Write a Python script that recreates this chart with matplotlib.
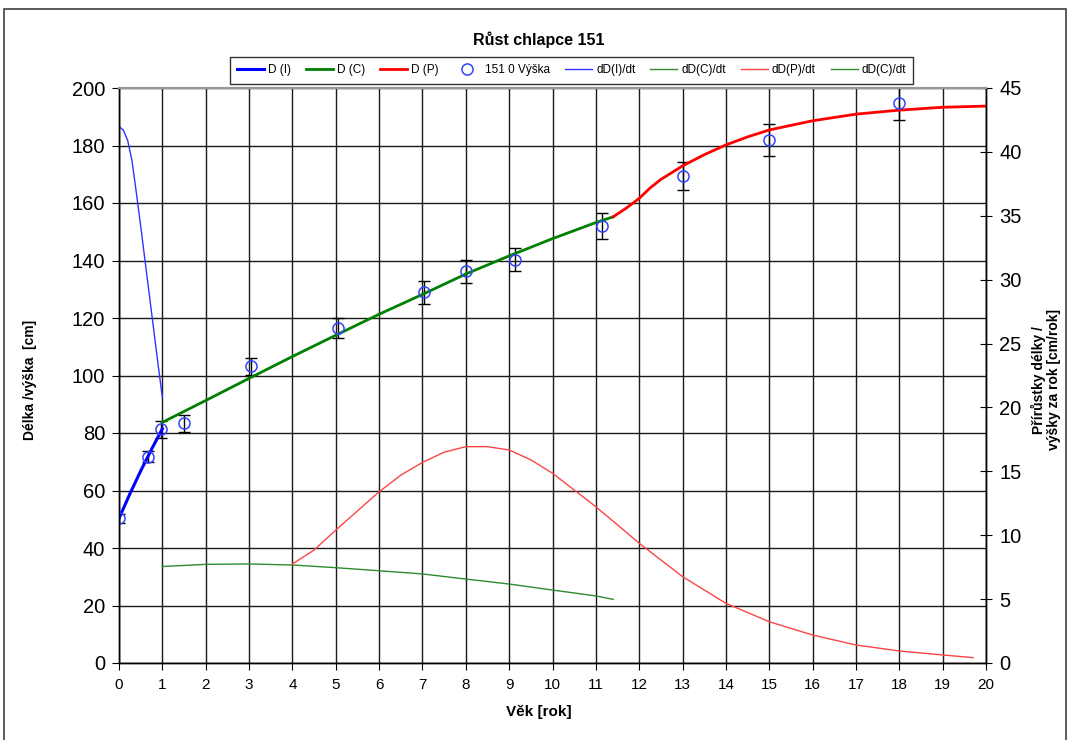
import matplotlib
matplotlib.use("Agg")
import matplotlib.pyplot as plt
from matplotlib.patches import Rectangle

# measured heights (151 0 Výška)
age_pts = [0.0, 0.67, 0.97, 1.51, 3.05, 5.05, 7.04, 8.0, 9.13, 11.14, 13.0, 15.0, 18.0]
height_pts = [50.3, 71.8, 81.3, 83.4, 103.2, 116.5, 129.0, 136.3, 140.2, 152.0, 169.4, 181.9, 194.8]
height_err = [1.5, 2.0, 3.0, 3.0, 3.0, 3.5, 4.0, 4.0, 4.0, 4.5, 5.0, 5.5, 6.0]

# D(I) - infancy
age_i = [0.0, 0.25, 0.5, 0.75, 1.0]
d_i = [50.3, 58.8, 66.8, 74.3, 81.5]

# D(C) - childhood
age_c = [1.0, 2.0, 3.0, 4.0, 5.0, 6.0, 7.0, 8.0, 9.0, 10.0, 11.0, 11.4]
d_c = [83.7, 91.3, 99.0, 106.6, 114.0, 121.3, 128.2, 135.3, 141.6, 147.6, 153.2, 155.2]

# D(P) - puberty
age_p = [11.4, 11.7, 12.0, 12.25, 12.5, 13.0, 13.5, 14.0, 14.5, 15.0, 16.0, 17.0, 18.0, 19.0, 20.0]
d_p = [155.2, 158.2, 161.6, 165.2, 168.2, 172.9, 176.8, 180.2, 183.0, 185.4, 188.6, 190.9, 192.3, 193.3, 193.7]

# derivatives [cm/rok]
age_di = [0.0, 0.1, 0.2, 0.3, 0.4, 0.5, 0.6, 0.7, 0.8, 0.9, 1.0]
dd_i = [42.0, 41.7, 40.9, 39.3, 36.8, 34.2, 31.5, 28.8, 26.1, 23.4, 20.8]

age_dc = [1.0, 2.0, 3.0, 4.0, 5.0, 6.0, 7.0, 8.0, 9.0, 10.0, 11.0, 11.4]
dd_c = [7.55, 7.72, 7.75, 7.67, 7.46, 7.22, 6.97, 6.57, 6.18, 5.71, 5.25, 4.98]

age_dp = [4.0, 4.5, 5.0, 5.5, 6.0, 6.5, 7.0, 7.5, 8.0, 8.5, 9.0, 9.5, 10.0, 11.0, 11.55,
          12.0, 13.0, 14.0, 15.0, 16.0, 17.0, 18.0, 19.0, 19.7]
dd_p = [7.75, 8.84, 10.4, 11.9, 13.4, 14.7, 15.7, 16.5, 16.93, 16.93, 16.67, 15.9, 14.85, 12.23, 10.67,
        9.37, 6.76, 4.67, 3.23, 2.19, 1.41, 0.94, 0.63, 0.42]

x_ticks = list(range(0, 21))
y_ticks = list(range(0, 201, 20))
y2_ticks = list(range(0, 46, 5))

narrow = ['Liberation Sans Narrow', 'Liberation Sans', 'DejaVu Sans']
plt.rcParams['font.family'] = ['Liberation Sans', 'DejaVu Sans']

fig = plt.figure(figsize=(10.72, 7.4), dpi=100)
ax = fig.add_axes([119 / 1072, 77 / 740, 867 / 1072, 575 / 740])
ax2 = ax.twinx()

# grid
for x in x_ticks:
    ax.axvline(x, color='#1a1a1a', lw=1.0, zorder=0)
for y in y_ticks:
    ax.axhline(y, color='#1a1a1a', lw=1.0, zorder=0)

# main curves
l1, = ax.plot(age_i, d_i, color='#0000ff', lw=2.2, label='D (I)', zorder=4)
l2, = ax.plot(age_c, d_c, color='#008000', lw=2.0, label='D (C)', zorder=4)
l3, = ax.plot(age_p, d_p, color='#ff0000', lw=2.0, label='D (P)', zorder=4)
ax.errorbar(age_pts, height_pts, yerr=height_err, fmt='none', ecolor='black',
            elinewidth=1, capsize=4, capthick=1, zorder=3)
l4, = ax.plot(age_pts, height_pts, 'o', ms=8, mfc='none', mec='#3344ff', mew=1.1,
              label='151 0 Výška', zorder=5)

# derivatives on right axis
l5, = ax2.plot(age_di, dd_i, color='#3333ff', lw=1.0, label='dD(I)/dt')
l6, = ax2.plot(age_dc, dd_c, color='#2e8b2e', lw=1.0, label='dD(C)/dt')
l7, = ax2.plot(age_dp, dd_p, color='#ff4444', lw=1.0, label='dD(P)/dt')
l8, = ax2.plot([], [], color='#2e8b2e', lw=1.0, label='dD(C)/dt')

ax.set_xlim(0, 20)
ax.set_ylim(0, 200)
ax2.set_ylim(0, 45)
ax.set_xticks(x_ticks)
ax.set_yticks(y_ticks)
ax2.set_yticks(y2_ticks)

ax.tick_params(axis='y', direction='out', length=5, labelsize=14.5, pad=5)
ax.tick_params(axis='x', direction='out', length=5, labelsize=11, pad=6)
for lab in ax.get_xticklabels():
    lab.set_family(narrow)
ax2.tick_params(axis='y', direction='inout', length=9, labelsize=14.5, pad=5)

for a in (ax, ax2):
    for s in a.spines.values():
        s.set_color('black')
        s.set_linewidth(1.0)
    a.spines['top'].set_color('#999999')
    a.spines['top'].set_linewidth(1.5)

fig.text(0.503, 0.946, 'Růst chlapce 151', ha='center', va='center',
         fontsize=11.5, fontweight='bold', family=narrow)
fig.text(0.5025, 0.038, 'Věk [rok]', ha='center', va='center',
         fontsize=11, fontweight='bold', family=narrow)
fig.text(0.028, 0.487, 'Délka /výška  [cm]', ha='center', va='center', rotation=90,
         fontsize=10, fontweight='bold', family=narrow)
fig.text(0.976, 0.487, 'Přírůstky délky /\nvýšky za rok [cm/rok]', ha='center', va='center',
         rotation=90, fontsize=10, fontweight='bold', family=narrow, linespacing=1.1)

leg = fig.legend(handles=[l1, l2, l3, l4, l5, l6, l7, l8], loc='center',
                 bbox_to_anchor=(571.5 / 1072, 1 - 70.5 / 740), ncol=8,
                 prop={'family': narrow, 'size': 8.5}, frameon=True, fancybox=False,
                 edgecolor='black', handlelength=2.3, columnspacing=1.25,
                 handletextpad=0.35, borderpad=0.6, borderaxespad=0)
leg.get_frame().set_linewidth(1.0)

# outer chart border
fig.patches.append(Rectangle((4 / 1072, -0.01), (1066 - 4) / 1072, 1 - 9 / 740 + 0.01,
                             transform=fig.transFigure, fill=False,
                             edgecolor='#404040', lw=1.2))

fig.savefig('out.png', dpi=100)
